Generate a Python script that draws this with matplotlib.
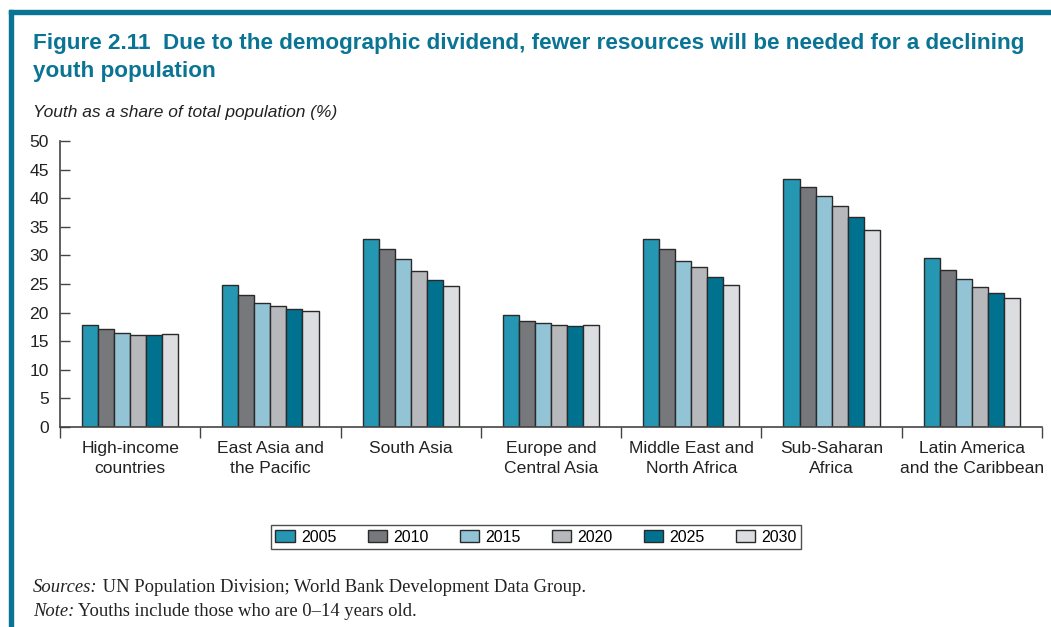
#!/usr/bin/env python3
"""Youth share of total population by region, 2005-2030 (grouped bars)."""

import matplotlib
matplotlib.use("Agg")
import matplotlib.pyplot as plt
from matplotlib.patches import Rectangle
import numpy as np

regions = [
    "High-income\ncountries",
    "East Asia and\nthe Pacific",
    "South Asia",
    "Europe and\nCentral Asia",
    "Middle East and\nNorth Africa",
    "Sub-Saharan\nAfrica",
    "Latin America\nand the Caribbean",
]
years = ["2005", "2010", "2015", "2020", "2025", "2030"]

y2005 = [17.8, 24.8, 32.9, 19.5, 32.9, 43.3, 29.6]
y2010 = [17.1, 23.0, 31.2, 18.6, 31.1, 41.9, 27.5]
y2015 = [16.5, 21.6, 29.3, 18.2, 29.1, 40.3, 25.8]
y2020 = [16.1, 21.1, 27.3, 17.9, 27.9, 38.6, 24.4]
y2025 = [16.1, 20.7, 25.7, 17.7, 26.3, 36.7, 23.4]
y2030 = [16.3, 20.2, 24.7, 17.8, 24.8, 34.5, 22.5]
series = [y2005, y2010, y2015, y2020, y2025, y2030]

colors = ["#2697b3", "#77787c", "#93c4d6", "#b6b8bb", "#00718f", "#dcdde0"]
teal = "#0a7494"
W, H = 1051, 627

fig = plt.figure(figsize=(W / 100, H / 100), dpi=100)

# frame lines on top and left
fig.patches.append(Rectangle((9 / W, 0), 4 / W, 1 - 10 / H,
                             transform=fig.transFigure, color=teal, zorder=0))
fig.patches.append(Rectangle((9 / W, 1 - 14 / H), 1, 4 / H,
                             transform=fig.transFigure, color=teal, zorder=0))

fig.text(33 / W, 1 - 43 / H,
         "Figure 2.11  Due to the demographic dividend, fewer resources will be needed for a declining",
         fontsize=16.2, fontweight="bold", color=teal, family="Liberation Sans", va="center")
fig.text(33 / W, 1 - 71 / H, "youth population",
         fontsize=16.2, fontweight="bold", color=teal, family="Liberation Sans", va="center")
fig.text(33 / W, 1 - 112 / H, "Youth as a share of total population (%)",
         fontsize=12.5, style="italic", color="#222222", family="Liberation Sans", va="center")

ax = fig.add_axes([60 / W, 200 / H, 982 / W, 286 / H])

n = len(years)
w = 16 / 140
x = np.arange(len(regions)) + 0.5
for i, (yr, vals, c) in enumerate(zip(years, series, colors)):
    ax.bar(x + (i - (n - 1) / 2) * w, vals, width=w, color=c, edgecolor="#2a2a2a",
           linewidth=1.0, label=yr, zorder=2)

ax.set_xlim(0, len(regions))
ax.set_ylim(0, 50)
ax.set_yticks(range(0, 51, 5))
ax.set_xticks(np.arange(len(regions) + 1))
ax.set_xticklabels([])
ax.set_xticks(x, minor=True)
ax.set_xticklabels(regions, minor=True, fontsize=12.6, family="Liberation Sans",
                   color="#222222", linespacing=1.4)
ax.tick_params(axis="x", which="minor", length=0, pad=10)
ax.tick_params(axis="x", which="major", direction="out", length=8, width=1, color="#444444")
ax.tick_params(axis="y", direction="in", length=7, width=1, color="#444444", pad=8,
               labelsize=12.6, labelcolor="#222222")
for lbl in ax.get_yticklabels():
    lbl.set_family("Liberation Sans")

for side in ["top", "right"]:
    ax.spines[side].set_visible(False)
for side in ["left", "bottom"]:
    ax.spines[side].set_color("#444444")
    ax.spines[side].set_linewidth(1.2)

leg = ax.legend(loc="center", bbox_to_anchor=(536 / W, 1 - 537 / H),
                bbox_transform=fig.transFigure, ncol=6, frameon=True, fancybox=False,
                edgecolor="#222222", prop={"family": "Liberation Sans", "size": 11.5},
                handlelength=1.2, handleheight=0.8, handletextpad=0.4, columnspacing=1.95,
                borderpad=0.3)
leg.get_frame().set_linewidth(1.0)

# footnotes: italic lead word, then roman text
renderer = fig.canvas.get_renderer()
notes = [("Sources:", " UN Population Division; World Bank Development Data Group.", 587),
         ("Note:", " Youths include those who are 0\u201314 years old.", 611)]
for lead, rest, ypx in notes:
    t = fig.text(33 / W, 1 - ypx / H, lead, fontsize=13.4, style="italic",
                 family="Liberation Serif", color="#222222", va="center")
    bb = t.get_window_extent(renderer)
    fig.text(bb.x1 / W, 1 - ypx / H, rest, fontsize=13.4,
             family="Liberation Serif", color="#222222", va="center")

fig.savefig("out.png", dpi=100)
